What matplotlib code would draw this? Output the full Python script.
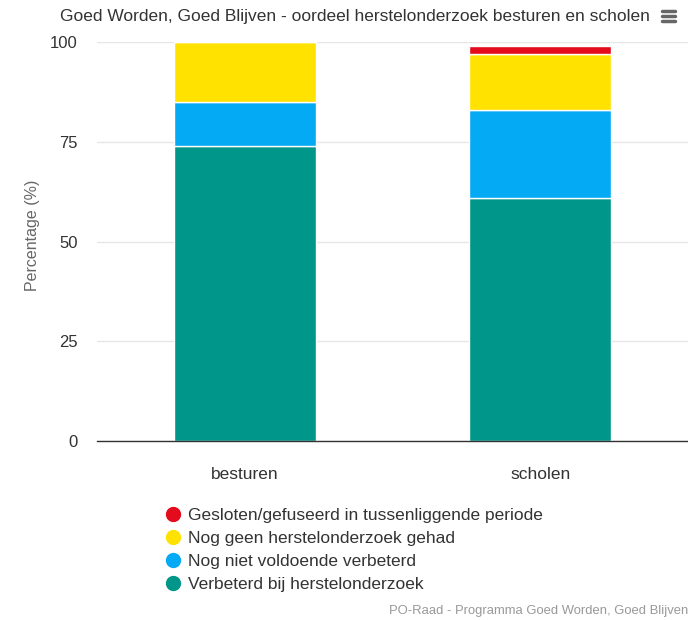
import matplotlib
matplotlib.use("Agg")
import matplotlib.pyplot as plt
from matplotlib.lines import Line2D
import numpy as np

categories = ["besturen", "scholen"]
series_names = ["Verbeterd bij herstelonderzoek", "Nog niet voldoende verbeterd",
                "Nog geen herstelonderzoek gehad", "Gesloten/gefuseerd in tussenliggende periode"]
verbeterd = [74, 61]
niet_voldoende = [11, 22]
geen_onderzoek = [15, 14]
gesloten = [0, 2]
colors = ["#00968a", "#05aaf4", "#ffe200", "#e30b1c"]
yticks = [0, 25, 50, 75, 100]

plt.rcParams['font.family'] = ['Liberation Sans', 'DejaVu Sans']

W, H = 688, 620
fig = plt.figure(figsize=(W/100, H/100), dpi=100)
ax = fig.add_axes([97/W, 1-441/H, (688-97)/W, (441-42)/H])

x = np.arange(len(categories))
bottom = np.zeros(len(categories))
for vals, col, name in zip([verbeterd, niet_voldoende, geen_onderzoek, gesloten], colors, series_names):
    v = np.array(vals, dtype=float)
    ax.bar(x, v, bottom=bottom, width=0.48, color=col, edgecolor="white", linewidth=1, label=name, zorder=3)
    bottom += v

ax.set_xlim(-0.5, 1.5)
ax.set_ylim(0, 100)
ax.set_yticks(yticks)
ax.set_yticklabels([str(t) for t in yticks], fontsize=12, color="#333333")
ax.set_xticks(x)
ax.set_xticklabels(categories, fontsize=12.5, color="#333333")
ax.tick_params(axis='y', length=0, pad=14)
ax.tick_params(axis='x', length=0, pad=19)
ax.grid(axis='y', color="#e6e6e6", linewidth=1, zorder=0)
for s in ["top", "right", "left"]:
    ax.spines[s].set_visible(False)
ax.spines["bottom"].set_color("#333333")
ax.spines["bottom"].set_linewidth(1)
ax.spines["bottom"].set_zorder(4)
ax.set_ylabel("Percentage (%)", fontsize=11.5, color="#666666")
ax.yaxis.set_label_coords((32-97)/591, (441-235)/399)
ax.yaxis.label.set_va("center")

fig.text(355/W, 1-17/H, "Goed Worden, Goed Blijven - oordeel herstelonderzoek besturen en scholen",
         ha="center", va="center", fontsize=12.5, color="#333333")

# menu icon
for yy in [11, 16, 21]:
    fig.add_artist(Line2D([662/W, 675/W], [1-yy/H, 1-yy/H], color="#666666", linewidth=2.5,
                          solid_capstyle="round"))

handles = [Line2D([], [], marker="o", linestyle="none", markersize=10, color=c) for c in colors[::-1]]
leg = fig.legend(handles, series_names[::-1], loc="upper left", bbox_to_anchor=(156/W, 1-501/H),
                 frameon=False, fontsize=12.5, handletextpad=0.25, labelspacing=0.45,
                 handlelength=1.2, borderaxespad=0)
for t in leg.get_texts():
    t.set_color("#333333")

fig.text(688/W, 1-611/H, "PO-Raad - Programma Goed Worden, Goed Blijven", ha="right", va="center",
         fontsize=9.4, color="#999999")

fig.savefig("out.png", dpi=100)
